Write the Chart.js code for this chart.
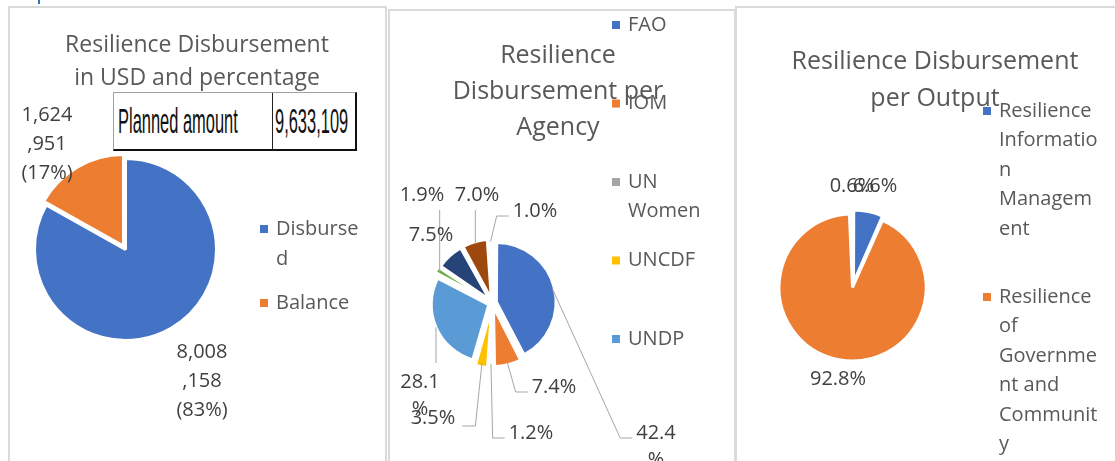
<!DOCTYPE html>
<html>
<head>
<meta charset="utf-8">
<script src="https://cdn.jsdelivr.net/npm/chart.js@4.4.1/dist/chart.umd.min.js"></script>
<style>
  body { margin: 0; width: 1115px; height: 461px; overflow: hidden; position: relative; background: #fff; font-family: 'Open Sans', sans-serif; }
  .panel { position: absolute; box-sizing: border-box; border: 2px solid #dadada; border-bottom: none; height: 520px; background: #fff; }
  canvas { position: absolute; left: 0; top: 0; }
  .planned { position: absolute; left: 113px; top: 92px; width: 244px; height: 59px; box-sizing: border-box;
             border-top: 1px solid #a0a0a0; border-left: 1px solid #a0a0a0; border-bottom: 2px solid #111; border-right: 2px solid #111;
             display: flex; z-index: 5; background: #fff; font-family: 'Liberation Sans', Arial, sans-serif; color: #111; }
  .planned div { height: 100%; display: flex; align-items: center; overflow: hidden; white-space: nowrap; }
  .planned .name { width: 159px; border-right: 1px solid #222; padding-left: 4px; box-sizing: border-box; }
  .planned .amount { flex: 1; padding-left: 2px; }
  .planned span { display: inline-block; font-size: 35px; transform: scaleX(0.47); transform-origin: left center; }
  .mark { position: absolute; left: 38px; top: 0; width: 2px; height: 4px; background: #2e75b6; }
</style>
</head>
<body>
<div class="mark"></div>
<div class="panel" style="left:8px;top:6px;width:379px"></div>
<div class="panel" style="left:388px;top:9px;width:348px"></div>
<div class="panel" style="left:735px;top:6px;width:400px"></div>
<canvas id="fundChart" width="1115" height="461"></canvas>
<canvas id="agencyChart" width="1115" height="461"></canvas>
<canvas id="outputChart" width="1115" height="461"></canvas>
<div class="planned">
  <div class="name"><span>Planned amount</span></div>
  <div class="amount"><span id="plannedValue"></span></div>
</div>
<script>
// Resilience disbursement in USD
const fundLabels = ['Disbursed', 'Balance'];
const fundValues = [8008158, 1624951];
const plannedAmount = 9633109;

// disbursement share per agency (%)
const agencyLabels = ['FAO', 'IOM', 'UN Women', 'UNCDF', 'UNDP', 'UNFPA', 'UNICEF', 'UNIDO', 'WFP'];
const agencyShares = [42.4, 7.4, 1.2, 3.5, 28.1, 1.9, 7.5, 7.0, 1.0];

// disbursement share per output (%)
const outputLabels = ['Resilience Information Management', 'Resilience of Government and Community', 'Resilience Coordination'];
const outputShares = [6.6, 92.8, 0.6];

const officeColors = ['#4472C4', '#ED7D31', '#A5A5A5', '#FFC000', '#5B9BD5', '#70AD47', '#264478', '#9E480E', '#636363'];

const W = 1115, H = 461;
const FONT = '"Open Sans", sans-serif';

document.getElementById('plannedValue').textContent = plannedAmount.toLocaleString('en-US');

function areaPadding(cx, cy, r) {
  return { left: cx - r, right: W - cx - r, top: cy - r, bottom: H - cy - r };
}

// excel-like wrap: by words, and break a word when it alone is too wide
function wrapText(ctx, text, maxWidth) {
  if (!maxWidth) return [text];
  const lines = [];
  let line = '';
  text.split(' ').forEach(word => {
    const tryLine = line ? line + ' ' + word : word;
    if (ctx.measureText(tryLine).width <= maxWidth) {
      line = tryLine;
      return;
    }
    if (line) lines.push(line);
    let rest = word;
    while (ctx.measureText(rest).width > maxWidth && rest.length > 1) {
      let n = rest.length - 1;
      while (n > 1 && ctx.measureText(rest.slice(0, n)).width > maxWidth) n--;
      lines.push(rest.slice(0, n));
      rest = rest.slice(n);
    }
    line = rest;
  });
  if (line) lines.push(line);
  return lines;
}

const decor = {
  id: 'decor',
  afterDatasetsDraw(chart, args, o) {
    const ctx = chart.ctx;
    const meta = chart.getDatasetMeta(0);
    const ds = chart.data.datasets[0];
    ctx.save();
    ctx.textBaseline = 'middle';

    // title
    ctx.fillStyle = '#595959';
    ctx.textAlign = 'center';
    ctx.font = o.title.size + 'px ' + FONT;
    o.title.lines.forEach((t, i) => ctx.fillText(t, o.title.x, o.title.y + i * o.title.gap));

    // legend (only the entries that fit in the box)
    const lg = o.legend;
    ctx.font = lg.size + 'px ' + FONT;
    ctx.textAlign = 'left';
    for (let i = 0; i < lg.count; i++) {
      const y = lg.y + i * lg.gap;
      ctx.fillStyle = ds.backgroundColor[i];
      ctx.fillRect(lg.x, y - 4, 8, 8);
      ctx.fillStyle = '#595959';
      wrapText(ctx, chart.data.labels[i], lg.maxWidth).forEach((t, j) => {
        ctx.fillText(t, lg.x + 16, y + j * lg.lineH);
      });
    }

    // data labels + leader lines
    const lb = o.labels;
    ctx.font = lb.size + 'px ' + FONT;
    meta.data.forEach((arc, i) => {
      const cx = arc.x, cy = arc.y;
      const lx = cx + lb.at[i][0], ly = cy + lb.at[i][1];
      const lines = wrapText(ctx, lb.text(i), lb.wrap ? lb.wrap[i] : 0);
      const w = ctx.measureText(lines[0]).width;
      const kind = lb.leader ? lb.leader[i] : null;
      if (kind) {
        const mid = (arc.startAngle + arc.endAngle) / 2;
        const rr = arc.outerRadius + (ds.offset[i] || 0) / 4;
        const px = cx + Math.cos(mid) * rr, py = cy + Math.sin(mid) * rr;
        ctx.strokeStyle = '#a6a6a6';
        ctx.lineWidth = 1;
        ctx.beginPath();
        ctx.moveTo(px, py);
        if (kind === 'left') {
          const ex = lx - w / 2 - 4, ey = ly + 5;
          ctx.lineTo(ex - 12, ey);
          ctx.lineTo(ex, ey);
        } else if (kind === 'right') {
          const ex = lx + w / 2 + 7, ey = ly + 8;
          ctx.lineTo(ex + 13, ey);
          ctx.lineTo(ex, ey);
        } else if (kind === 'up') {
          ctx.lineTo(px, ly + 15);
        } else if (kind === 'down') {
          ctx.lineTo(px, ly - 19);
        }
        ctx.stroke();
      }
      ctx.fillStyle = '#404040';
      ctx.textAlign = 'center';
      lines.forEach((t, j) => ctx.fillText(t, lx, ly + j * lb.lineH));
    });
    ctx.restore();
  }
};

function pieOptions(cx, cy, r, decorOpts) {
  return {
    responsive: false,
    animation: false,
    events: [],
    layout: { padding: areaPadding(cx, cy, r) },
    plugins: {
      legend: { display: false },
      tooltip: { enabled: false },
      decor: decorOpts
    }
  };
}

const fundTotal = fundValues.reduce((a, b) => a + b, 0);
new Chart(document.getElementById('fundChart'), {
  type: 'pie',
  data: {
    labels: fundLabels,
    datasets: [{
      data: fundValues,
      backgroundColor: officeColors.slice(0, 2),
      borderColor: '#fff',
      borderWidth: 3,
      offset: [0, 16],
      radius: 91
    }]
  },
  options: pieOptions(125.5, 249.5, 91, {
    title: { lines: ['Resilience Disbursement', 'in USD and percentage'], x: 197, y: 45, gap: 33, size: 23 },
    legend: { x: 260, y: 229, gap: 74, count: 2, maxWidth: 90, lineH: 30, size: 20 },
    labels: {
      size: 20, lineH: 29,
      at: [[76.5, 102.5], [-78.5, -134.5]],
      wrap: [54, 54],
      text: i => fundValues[i].toLocaleString('en-US') + ' (' + Math.round(fundValues[i] / fundTotal * 100) + '%)'
    }
  }),
  plugins: [decor]
});

new Chart(document.getElementById('agencyChart'), {
  type: 'pie',
  data: {
    labels: agencyLabels,
    datasets: [{
      data: agencyShares,
      backgroundColor: officeColors,
      borderColor: '#fff',
      borderWidth: 3,
      offset: agencyShares.map(() => 16),
      radius: 57.5
    }]
  },
  options: pieOptions(492.5, 303, 57.5, {
    title: { lines: ['Resilience', 'Disbursement per', 'Agency'], x: 558, y: 56, gap: 36, size: 25 },
    legend: { x: 612, y: 25, gap: 78.5, count: 5, maxWidth: 85, lineH: 29.5, size: 20 },
    labels: {
      size: 20, lineH: 27,
      at: [[163.5, 130], [61.5, 84], [38.5, 130], [-59.5, 115], [-72.5, 79], [-70.5, -108], [-61.5, -68], [-15.5, -108], [42.5, -92]],
      wrap: [48, 0, 0, 0, 48, 0, 0, 0, 0],
      leader: ['left', 'left', 'left', 'right', 'down', 'up', null, 'up', 'left'],
      text: i => agencyShares[i].toFixed(1) + '%'
    }
  }),
  plugins: [decor]
});

new Chart(document.getElementById('outputChart'), {
  type: 'pie',
  data: {
    labels: outputLabels,
    datasets: [{
      data: outputShares,
      backgroundColor: officeColors.slice(0, 3),
      borderColor: '#fff',
      borderWidth: 3,
      offset: [10, 10, 10],
      radius: 71
    }]
  },
  options: pieOptions(853, 285, 71, {
    title: { lines: ['Resilience Disbursement', 'per Output'], x: 935, y: 62, gap: 37, size: 25 },
    legend: { x: 983, y: 111, gap: 186, count: 2, maxWidth: 104, lineH: 29.5, size: 20 },
    labels: {
      size: 20, lineH: 29,
      at: [[22, -99], [-15, 94], [-1, -99]],
      text: i => outputShares[i].toFixed(1) + '%'
    }
  }),
  plugins: [decor]
});
</script>
</body>
</html>
